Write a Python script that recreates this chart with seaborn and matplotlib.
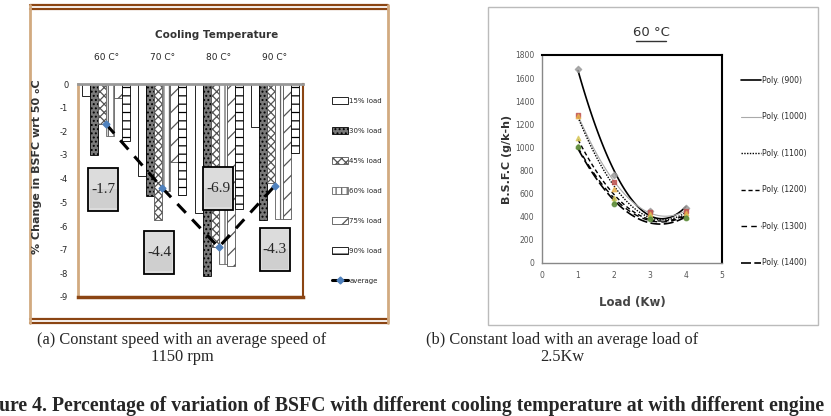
import numpy as np
import pandas as pd
import seaborn as sns
import matplotlib.pyplot as plt
from matplotlib.lines import Line2D
from matplotlib.patches import Rectangle

# ---- data: panel (a) ----
temps = ["60 C°", "70 C°", "80 C°", "90 C°"]
loads = ["15% load", "30% load", "45% load", "60% load", "75% load", "90% load"]
load15 = [-0.5, -3.9, -5.45, -1.8]
load30 = [-3.0, -4.75, -8.1, -5.75]
load45 = [-1.7, -5.75, -6.9, -4.2]
load60 = [-2.2, -4.5, -7.6, -5.7]
load75 = [-0.6, -3.3, -7.7, -5.7]
load90 = [-2.4, -4.7, -5.3, -2.9]
average = [-1.7, -4.4, -6.9, -4.3]

# ---- data: panel (b) ----
load_kw = [1, 2, 3, 4]
speeds = ["900", "1000", "1100", "1200", "1300", "1400"]
bsfc900 = [1680, 760, 450, 475]
bsfc1000 = [1280, 700, 440, 450]
bsfc1100 = [1270, 640, 420, 430]
bsfc1200 = [1080, 560, 410, 410]
bsfc1300 = [1010, 530, 400, 400]
bsfc1400 = [1000, 510, 380, 390]

W, H = 831, 416


def fx(px):
    return px / W


def fy(py):
    return 1 - py / H


sns.set_style("white")
plt.rcParams["font.family"] = ["DejaVu Sans"]
plt.rcParams["hatch.linewidth"] = 0.9

fig = plt.figure(figsize=(8.31, 4.16), dpi=100)

# ================= panel (a) =================
rows = []
for ld, vals in zip(loads, [load15, load30, load45, load60, load75, load90]):
    for t, v in zip(temps, vals):
        rows.append({"Temp": t, "Load": ld, "Change": v})
df_a = pd.DataFrame(rows)

ax1 = fig.add_axes([fx(78), fy(297), fx(303) - fx(78), fy(84) - fy(297)])
sns.barplot(data=df_a, x="Temp", y="Change", hue="Load", order=temps,
            hue_order=loads, width=0.85, legend=False, ax=ax1)

styles = [
    dict(fc="white", ec="black", hatch=None),
    dict(fc="#7a7a7a", ec="black", hatch="...."),
    dict(fc="white", ec="#555555", hatch="xxxx"),
    dict(fc="white", ec="#666666", hatch="|||"),
    dict(fc="white", ec="#555555", hatch="//"),
    dict(fc="white", ec="black", hatch="--"),
]
for cont, st in zip(ax1.containers, styles):
    for bar in cont:
        bar.set_facecolor(st["fc"])
        bar.set_edgecolor(st["ec"])
        bar.set_linewidth(0.6)
        if st["hatch"]:
            bar.set_hatch(st["hatch"])

ax1.plot(range(len(temps)), average, color="black", lw=2.2,
         linestyle=(0, (4, 3)), marker="D", markersize=3.5,
         markerfacecolor="#4f81bd", markeredgecolor="#4f81bd", zorder=5)

# value boxes (centre in data units), box is 30 x 43 px
box_pos = [(-0.05, -4.45), (0.94, -7.1), (1.99, -4.4), (3.0, -7.0)]
bw, bh = 30 / 56.25, 43 / 23.67
for (bx, by), v in zip(box_pos, average):
    ax1.add_patch(Rectangle((bx - bw / 2, by - bh / 2), bw, bh, fc="#dcdcdc",
                            ec="black", lw=1.3, zorder=6))
    ax1.add_patch(Rectangle((bx - bw / 2 + 0.03, by - bh / 2 + 0.1), bw - 0.06,
                            bh * 0.45, fc="#cfcfcf", ec="none", zorder=6))
    ax1.text(bx, by, f"{v:.1f}", ha="center", va="center", fontsize=11,
             family="Liberation Serif", zorder=7)

ax1.set_ylim(-9, 0)
ax1.set_xlim(-0.5, 3.5)
ax1.set_yticks(range(0, -10, -1))
ax1.set_yticklabels([str(i) if i == 0 else f"-{abs(i)}" for i in range(0, -10, -1)])
ax1.xaxis.tick_top()
ax1.tick_params(axis="x", length=0, pad=16, labelsize=6.5)
ax1.tick_params(axis="y", length=0, pad=7, labelsize=6)
ax1.set_xlabel("")
ax1.set_ylabel("")
for s in ax1.spines.values():
    s.set_visible(True)
ax1.spines["left"].set_color("#d2aa80")
ax1.spines["left"].set_linewidth(2)
ax1.spines["bottom"].set_color("#8b4513")
ax1.spines["bottom"].set_linewidth(2.5)
ax1.spines["right"].set_color("#8b4513")
ax1.spines["right"].set_linewidth(1.5)
ax1.spines["top"].set_color("#999999")
ax1.spines["top"].set_linewidth(2)

handles = [cont[0] for cont in ax1.containers]
handles.append(Line2D([], [], color="black", lw=2.2, marker="D", markersize=3.5,
                      markerfacecolor="#4f81bd", markeredgecolor="#4f81bd"))
ax1.legend(handles, loads + ["average"], loc="upper left",
           bbox_to_anchor=(fx(329), fy(94)), bbox_transform=fig.transFigure,
           frameon=False, fontsize=5, labelspacing=3.35, handlelength=2.2,
           handleheight=1.1, handletextpad=0.2, borderpad=0)

fig.text(fx(217), fy(35), "Cooling Temperature", ha="center", va="center",
         fontsize=7.5, fontweight="bold", color="#333333")
fig.text(fx(37), fy(167), "% Change in BSFC wrt 50 ₒC", rotation=90,
         ha="center", va="center", fontsize=8, fontweight="bold", color="#333333")

# outer frame of panel (a)
for yy in (5, 9):
    fig.add_artist(Line2D([fx(30), fx(388)], [fy(yy), fy(yy)], color="#8b4513", lw=1.6))
for yy in (319, 323):
    fig.add_artist(Line2D([fx(30), fx(388)], [fy(yy), fy(yy)], color="#8b4513", lw=1.6))
for xx in (30, 388):
    fig.add_artist(Line2D([fx(xx), fx(xx)], [fy(5), fy(323)], color="#d2aa80", lw=2))

# ================= panel (b) =================
ax2 = fig.add_axes([fx(542), fy(263), fx(722) - fx(542), fy(55) - fy(263)])
series_b = [bsfc900, bsfc1000, bsfc1100, bsfc1200, bsfc1300, bsfc1400]
mk_colors = ["#9a9a9a", "#c0504d", "#e8b04a", "#d8c85a", "#9bbb59", "#5c8a3c"]
markers = ["D", "s", "^", "^", "^", "o"]
line_styles = [
    dict(color="black", lw=1.2, ls="-"),
    dict(color="#aaaaaa", lw=0.8, ls="-"),
    dict(color="black", lw=1.0, ls=(0, (1, 1))),
    dict(color="black", lw=1.0, ls=(0, (3, 2))),
    dict(color="black", lw=1.0, ls=(0, (4, 3))),
    dict(color="black", lw=1.2, ls=(0, (6, 2))),
]
for sp, vals, mc, mk, lst in zip(speeds, series_b, mk_colors, markers, line_styles):
    df_b = pd.DataFrame({"Load": load_kw, "BSFC": vals})
    sns.regplot(data=df_b, x="Load", y="BSFC", order=2, ci=None, ax=ax2,
                marker=mk, scatter_kws=dict(s=10, color=mc, zorder=3),
                line_kws=dict(color=lst["color"], lw=lst["lw"],
                              linestyle=lst["ls"], label=f"Poly. ({sp})"))

ax2.set_xlim(0, 5)
ax2.set_ylim(0, 1800)
ax2.set_xticks(range(0, 6))
ax2.set_yticks(range(0, 1801, 200))
ax2.tick_params(labelsize=5.5, labelcolor="#555555", length=2, color="#999999")
ax2.set_xlabel("Load (Kw)", fontsize=8.5, fontweight="bold", color="#444444", labelpad=12)
ax2.set_ylabel("B.S.F.C (g/k-h)", fontsize=8, fontweight="bold", color="#333333", labelpad=2)
for s in ("top", "right"):
    ax2.spines[s].set_color("black")
    ax2.spines[s].set_linewidth(1.5)
for s in ("left", "bottom"):
    ax2.spines[s].set_color("#888888")
    ax2.spines[s].set_linewidth(1.0)

h2, l2 = ax2.get_legend_handles_labels()
ax2.legend(h2, l2, loc="upper left", bbox_to_anchor=(fx(737), fy(72)),
           bbox_transform=fig.transFigure, frameon=False, fontsize=5.5,
           labelspacing=3.6, handlelength=2.6, handletextpad=0.2, borderpad=0)

fig.text(fx(651), fy(32), "60 °C", ha="center", va="center", fontsize=9.5,
         color="#333333")
fig.add_artist(Line2D([fx(636), fx(666)], [fy(41), fy(41)], color="#333333", lw=1))

fig.add_artist(Rectangle((fx(488), fy(325)), fx(818) - fx(488), fy(7) - fy(325),
                         transform=fig.transFigure, fill=False, ec="#bbbbbb", lw=1))

# ================= captions =================
serif = ["Liberation Serif", "DejaVu Serif"]
fig.text(fx(182), fy(340), "(a) Constant speed with an average speed of",
         ha="center", va="center", fontsize=11.8, family=serif)
fig.text(fx(182), fy(357), "1150 rpm", ha="center", va="center", fontsize=11.8, family=serif)
fig.text(fx(562), fy(340), "(b) Constant load with an average load of",
         ha="center", va="center", fontsize=11.8, family=serif)
fig.text(fx(562), fy(357), "2.5Kw", ha="center", va="center", fontsize=11.8, family=serif)
fig.text(fx(-1), fy(406),
         "ure 4. Percentage of variation of BSFC with different cooling temperature at with different engine",
         ha="left", va="center", fontsize=14.2, fontweight="bold", family=serif)

fig.savefig("out.png", dpi=100)
